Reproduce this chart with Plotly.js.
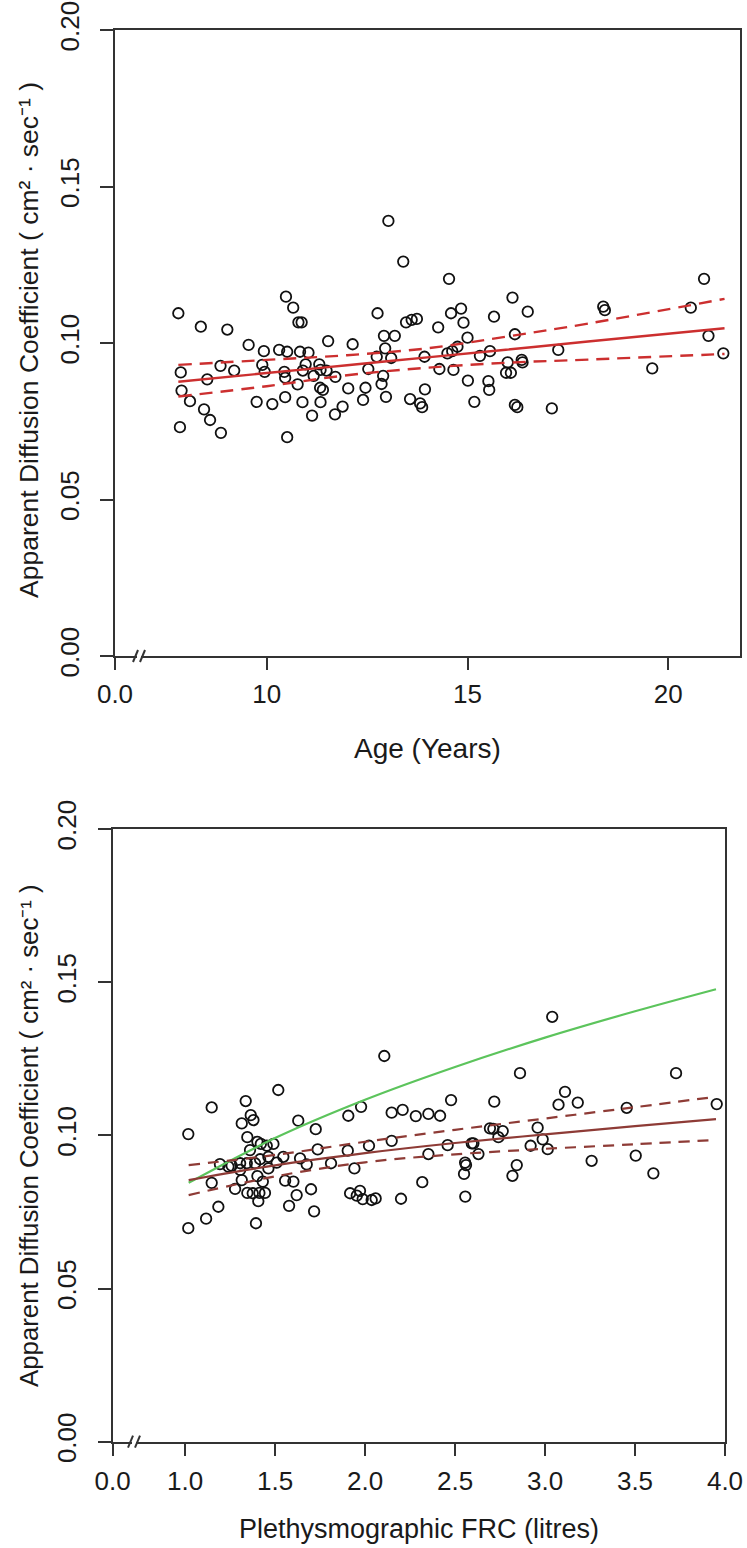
<!DOCTYPE html>
<html><head><meta charset="utf-8">
<script src="https://cdn.plot.ly/plotly-3.0.1.min.js"></script>
<style>html,body{margin:0;padding:0;background:#fff}</style>
</head><body><div id="chart" style="width:747px;height:1548px"></div>
<script>
// ---------- Top panel: ADC vs Age ----------
const ageYears = [7.80,7.86,7.88,7.84,8.09,8.36,8.52,8.44,8.59,8.85,9.02,8.86,9.19,9.55,9.75,9.93,9.89,9.95,
  10.14,10.31,10.48,10.66,10.79,10.87,10.51,10.44,10.46,10.46,10.51,10.77,10.83,11.04,10.90,10.97,10.89,
  11.17,11.13,11.31,11.34,11.33,11.40,11.34,11.53,11.49,11.71,11.70,11.89,12.03,12.14,12.46,12.53,12.40,
  12.76,12.74,12.92,13.19,12.95,13.10,12.90,12.86,12.97,13.03,13.40,13.47,13.61,13.74,13.93,13.94,13.57,
  13.82,13.87,14.27,14.30,14.54,14.59,14.84,14.90,15.00,14.75,14.62,14.50,14.65,15.01,15.31,15.56,15.66,
  15.52,15.54,15.17,16.12,16.50,16.18,16.00,15.96,16.08,16.35,16.37,16.18,16.24,17.26,17.10,18.38,18.42,
  19.60,20.56,20.89,21.00,21.37];
const adcByAge = [0.1095,0.0906,0.0848,0.0731,0.0814,0.1052,0.0884,0.0788,0.0754,0.0927,0.1043,0.0713,0.0912,0.0994,0.0812,0.0974,0.0930,0.0908,
  0.0805,0.0978,0.1148,0.1113,0.1066,0.1066,0.0972,0.0908,0.0889,0.0827,0.0699,0.0868,0.0972,0.0969,0.0912,0.0932,0.0811,
  0.0895,0.0768,0.0932,0.0914,0.0857,0.0850,0.0811,0.1006,0.0912,0.0892,0.0772,0.0797,0.0855,0.0996,0.0857,0.0917,0.0818,
  0.1095,0.0956,0.1023,0.1023,0.0983,0.0952,0.0895,0.0869,0.0828,0.1390,0.1260,0.1066,0.1074,0.1077,0.0956,0.0852,0.0821,
  0.0807,0.0795,0.1050,0.0917,0.1205,0.1095,0.1110,0.1065,0.1017,0.0988,0.0974,0.0967,0.0914,0.0880,0.0959,0.0974,0.1084,
  0.0878,0.0850,0.0812,0.1145,0.1100,0.1028,0.0938,0.0905,0.0905,0.0946,0.0938,0.0802,0.0795,0.0978,0.0791,0.1116,0.1105,
  0.0919,0.1113,0.1205,0.1023,0.0967];
const ageFitX     = [7.80, 10.0, 12.0, 14.0, 16.0, 18.0, 21.40];
const ageFit      = [0.0876,0.0904,0.0929,0.0954,0.0979,0.1005,0.1047];
const ageFitUpper = [0.0930,0.0946,0.0961,0.0983,0.1021,0.1062,0.1141];
const ageFitLower = [0.0829,0.0862,0.0897,0.0921,0.0937,0.0947,0.0965];
const ageTickVals = [6.223, 10, 15, 20];
const ageTickText = ["0.0", "10", "15", "20"];

// ---------- Bottom panel: ADC vs FRC ----------
const frcLitres = [1.018,1.148,1.337,1.518,1.365,1.380,1.315,1.629,1.726,1.907,1.978,1.346,1.402,1.421,1.454,1.491,1.361,1.737,
  1.904,2.022,1.194,1.259,1.241,1.306,1.306,1.343,1.389,1.417,1.463,1.509,1.546,1.463,1.639,1.676,1.811,1.941,
  1.148,1.315,1.402,1.432,1.556,1.602,1.278,1.346,1.376,1.413,1.444,1.407,1.620,1.700,1.185,1.578,1.717,1.117,
  1.018,1.394,1.917,1.954,1.987,1.972,2.037,2.059,2.107,2.148,2.209,2.282,2.352,2.417,2.478,2.718,2.861,3.040,
  3.075,2.148,2.352,2.459,2.593,2.602,2.630,2.694,2.713,2.741,2.765,2.920,2.959,2.987,3.015,2.556,2.561,2.550,
  2.843,2.819,2.318,2.557,2.200,3.111,3.182,3.454,3.728,3.954,3.259,3.504,3.602];
const adcByFrc = [0.1004,0.1091,0.1112,0.1148,0.1066,0.1050,0.1039,0.1048,0.1020,0.1064,0.1093,0.0994,0.0979,0.0972,0.0966,0.0972,0.0952,0.0954,
  0.0950,0.0966,0.0906,0.0901,0.0898,0.0909,0.0887,0.0909,0.0909,0.0922,0.0930,0.0911,0.0930,0.0892,0.0925,0.0905,0.0909,0.0892,
  0.0845,0.0854,0.0867,0.0849,0.0852,0.0849,0.0825,0.0812,0.0811,0.0812,0.0812,0.0785,0.0805,0.0824,0.0767,0.0770,0.0752,0.0728,
  0.0697,0.0713,0.0811,0.0803,0.0792,0.0819,0.0789,0.0794,0.1259,0.1074,0.1083,0.1063,0.1070,0.1064,0.1115,0.1110,0.1203,0.1387,
  0.1100,0.0982,0.0939,0.0968,0.0974,0.0974,0.0939,0.1023,0.1021,0.0994,0.1014,0.0966,0.1025,0.0987,0.0955,0.0911,0.0903,0.0874,
  0.0903,0.0868,0.0847,0.0800,0.0793,0.1142,0.1107,0.1090,0.1203,0.1102,0.0917,0.0934,0.0876];
const frcFitX     = [1.02, 1.5, 2.0, 2.5, 3.0, 3.5, 3.95];
const frcFit      = [0.0854,0.0902,0.0942,0.0975,0.1003,0.1030,0.1053];
const frcFitUpper = [0.0903,0.0936,0.0979,0.1018,0.1055,0.1092,0.1126];
const frcFitLower = [0.0805,0.0866,0.0912,0.0938,0.0956,0.0971,0.0985];
const frcGreenFit = [0.0845,0.0991,0.1116,0.1223,0.1319,0.1405,0.1477];
const frcTickVals = [0.598, 1.0, 1.5, 2.0, 2.5, 3.0, 3.5, 4.0];
const frcTickText = ["0.0","1.0","1.5","2.0","2.5","3.0","3.5","4.0"];

// ---------- shared y ticks and titles ----------
const adcTickVals = [0, 0.05, 0.10, 0.15, 0.20];
const adcTickText = ["0.00","0.05","0.10","0.15","0.20"];
const yTitle = 'Apparent Diffusion Coefficient ( cm² · sec⁻¹ )';
const xTitleTop = 'Age (Years)';
const xTitleBottom = 'Plethysmographic FRC (litres)';

const W = 747, H = 1548;
const FONT = 'Liberation Sans, Arial, sans-serif';
const INK = '#1a1a1a';
const AXC = '#333';
const RED = '#cc2f2f';
const BROWN = '#8e3b36';
const GREEN = '#5cc45c';

function px2x(p){ return p / W; }
function px2y(p){ return 1 - p / H; }

const markerStyle = {symbol:'circle-open', size:10.5, color:'#111', line:{width:1.8, color:'#111'}};

const traces = [
  {x: ageYears, y: adcByAge, xaxis:'x', yaxis:'y', mode:'markers', type:'scatter', marker: markerStyle},
  {x: ageFitX, y: ageFit, xaxis:'x', yaxis:'y', mode:'lines', type:'scatter', line:{color:RED, width:2.4, shape:'spline'}},
  {x: ageFitX, y: ageFitUpper, xaxis:'x', yaxis:'y', mode:'lines', type:'scatter', line:{color:RED, width:2.4, dash:'13px,8px', shape:'spline'}},
  {x: ageFitX, y: ageFitLower, xaxis:'x', yaxis:'y', mode:'lines', type:'scatter', line:{color:RED, width:2.4, dash:'13px,8px', shape:'spline'}},

  {x: frcLitres, y: adcByFrc, xaxis:'x2', yaxis:'y2', mode:'markers', type:'scatter', marker: markerStyle},
  {x: frcFitX, y: frcGreenFit, xaxis:'x2', yaxis:'y2', mode:'lines', type:'scatter', line:{color:GREEN, width:2.2, shape:'spline'}},
  {x: frcFitX, y: frcFit, xaxis:'x2', yaxis:'y2', mode:'lines', type:'scatter', line:{color:BROWN, width:2.2, shape:'spline'}},
  {x: frcFitX, y: frcFitUpper, xaxis:'x2', yaxis:'y2', mode:'lines', type:'scatter', line:{color:BROWN, width:2.2, dash:'11px,8px', shape:'spline'}},
  {x: frcFitX, y: frcFitLower, xaxis:'x2', yaxis:'y2', mode:'lines', type:'scatter', line:{color:BROWN, width:2.2, dash:'11px,8px', shape:'spline'}}
];

function axisBase(){
  return {
    showline:true, linecolor:AXC, linewidth:2, mirror:true,
    ticks:'outside', tickcolor:AXC, tickwidth:2,
    showgrid:false, zeroline:false, fixedrange:true, automargin:false,
    tickfont:{family:FONT, size:26, color:INK}
  };
}

const layout = {
  width:W, height:H, margin:{l:0, r:0, t:0, b:0},
  paper_bgcolor:'#fff', plot_bgcolor:'#fff', showlegend:false,
  font:{family:FONT, color:INK},
  xaxis: Object.assign(axisBase(), {
    domain:[px2x(115), px2x(740)], anchor:'y', range:[ageTickVals[0], 21.785],
    tickmode:'array', tickvals:ageTickVals, ticktext:ageTickText, ticklen:12, ticklabelstandoff:2
  }),
  yaxis: Object.assign(axisBase(), {
    domain:[px2y(656), px2y(30)], anchor:'x', range:[0, 0.2],
    tickmode:'array', tickvals:adcTickVals, ticktext:adcTickText, ticklen:13, tickangle:-90, ticklabelstandoff:11
  }),
  xaxis2: Object.assign(axisBase(), {
    domain:[px2x(112.7), px2x(725)], anchor:'y2', range:[frcTickVals[0], 4.0],
    tickmode:'array', tickvals:frcTickVals, ticktext:frcTickText, ticklen:12, ticklabelstandoff:3
  }),
  yaxis2: Object.assign(axisBase(), {
    domain:[px2y(1441.7), px2y(829)], anchor:'x2', range:[0, 0.2],
    tickmode:'array', tickvals:adcTickVals, ticktext:adcTickText, ticklen:13, tickangle:-90, ticklabelstandoff:11
  }),
  annotations: [
    {text:xTitleTop, xref:'paper', yref:'paper', x:px2x(427.5), y:px2y(748), xanchor:'center', yanchor:'middle', showarrow:false, font:{family:FONT, size:28, color:INK}},
    {text:xTitleBottom, xref:'paper', yref:'paper', x:px2x(419), y:px2y(1529), xanchor:'center', yanchor:'middle', showarrow:false, font:{family:FONT, size:27, color:INK}},
    {text:yTitle, xref:'paper', yref:'paper', x:px2x(29), y:px2y(340), xanchor:'center', yanchor:'middle', textangle:-90, showarrow:false, font:{family:FONT, size:26.5, color:INK}},
    {text:yTitle, xref:'paper', yref:'paper', x:px2x(29), y:px2y(1136), xanchor:'center', yanchor:'middle', textangle:-90, showarrow:false, font:{family:FONT, size:25.8, color:INK}}
  ],
  shapes: []
};

// axis-break marks "//" on the x axes
function addBreak(x0, yAxis){
  const s = layout.shapes;
  s.push({type:'rect', xref:'paper', yref:'paper', x0:px2x(x0+4), x1:px2x(x0+8), y0:px2y(yAxis+3), y1:px2y(yAxis-3), fillcolor:'#fff', line:{width:0}, layer:'above'});
  s.push({type:'line', xref:'paper', yref:'paper', x0:px2x(x0), y0:px2y(yAxis+6), x1:px2x(x0+5), y1:px2y(yAxis-6), line:{color:AXC, width:2}, layer:'above'});
  s.push({type:'line', xref:'paper', yref:'paper', x0:px2x(x0+7), y0:px2y(yAxis+6), x1:px2x(x0+12), y1:px2y(yAxis-6), line:{color:AXC, width:2}, layer:'above'});
}
addBreak(133, 656);
addBreak(128, 1441.7);

Plotly.newPlot('chart', traces, layout, {displayModeBar:false, staticPlot:true});
</script>
</body></html>
